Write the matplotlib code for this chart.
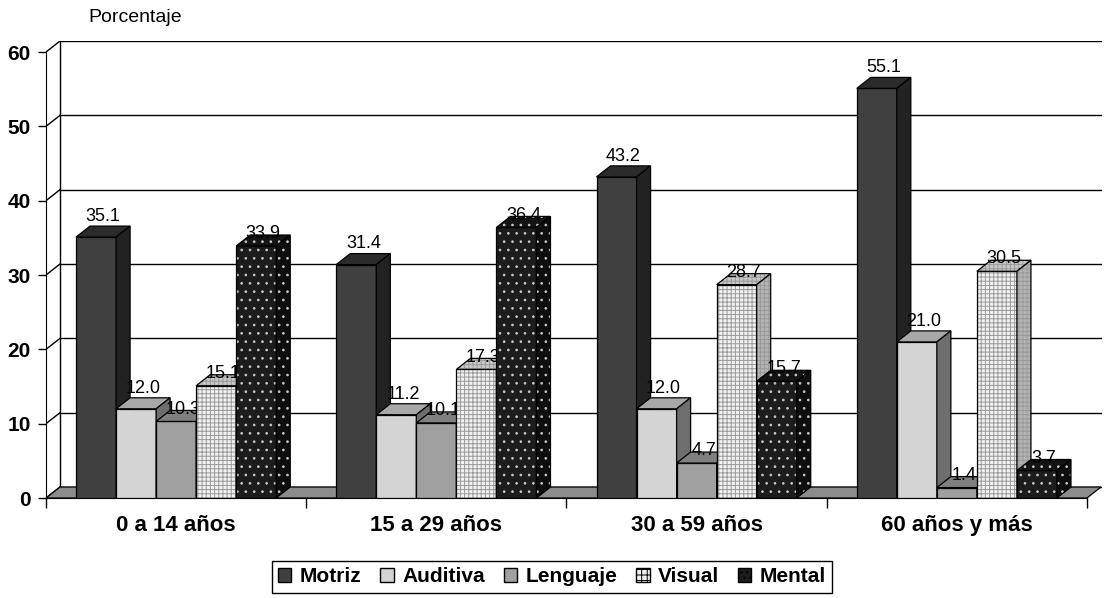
import matplotlib.pyplot as plt
from matplotlib.patches import Polygon, Patch

plt.rcParams['font.family'] = ['Liberation Sans', 'DejaVu Sans']
plt.rcParams['hatch.linewidth'] = 0.7

grupos = ['0 a 14 años', '15 a 29 años', '30 a 59 años', '60 años y más']
tipos = ['Motriz', 'Auditiva', 'Lenguaje', 'Visual', 'Mental']
motriz = [35.1, 31.4, 43.2, 55.1]
auditiva = [12.0, 11.2, 12.0, 21.0]
lenguaje = [10.3, 10.1, 4.7, 1.4]
visual = [15.1, 17.3, 28.7, 30.5]
mental = [33.9, 36.4, 15.7, 3.7]
series = [motriz, auditiva, lenguaje, visual, mental]

# front, top, side, hatch, hatch colour
estilos = [
    ('#404040', '#2b2b2b', '#222222', None, None),
    ('#d4d4d4', '#a8a8a8', '#6e6e6e', None, None),
    ('#a0a0a0', '#808080', '#5c5c5c', None, None),
    ('#f0f0f0', '#c8c8c8', '#b4b4b4', '++++', '#9a9a9a'),
    ('#1c1c1c', '#141414', '#0e0e0e', '..', '#c8c8c8'),
]
# label lift above the bar top (points)
lift = [7, 7, 1, 1, 1]

w = 40 / 260       # bar width in group units
pad = 30 / 260     # space before the first bar of a group
dx = 14 / 260      # depth offset, x
dy = 1.48          # depth offset, y (value units)
xmax = 4 + 15 / 260


def cara(ax, pts, fc, hatch, hc, z):
    ax.add_patch(Polygon(pts, closed=True, facecolor=fc, edgecolor='none', zorder=z))
    if hatch:
        ax.add_patch(Polygon(pts, closed=True, facecolor='none', edgecolor=hc,
                             hatch=hatch, lw=0, zorder=z))
    ax.add_patch(Polygon(pts, closed=True, fill=False, edgecolor='black',
                         lw=0.9, zorder=z))


fig = plt.figure(figsize=(11.04, 5.98), dpi=100)
ax = fig.add_axes([46 / 1104, 100 / 598, 1056 / 1104, 457 / 598])
ax.set_xlim(0, xmax)
ax.set_ylim(0, 60 + dy)

# walls and floor
for v in range(0, 61, 10):
    ax.plot([dx, xmax], [v + dy, v + dy], color='black', lw=1, zorder=0.5)
    ax.plot([0, dx], [v, v + dy], color='black', lw=1, zorder=0.5)
ax.plot([dx, dx], [dy, 60 + dy], color='black', lw=1, zorder=0.5)
cara(ax, [(0, 0), (4, 0), (4 + dx, dy), (dx, dy)], '#8c8c8c', None, None, 1)

for g in range(len(grupos)):
    for s, vals in enumerate(series):
        v = vals[g]
        fc, tc, sc, hatch, hc = estilos[s]
        x0 = g + pad + s * w
        z = 2 + s
        cara(ax, [(x0, 0), (x0 + w, 0), (x0 + w, v), (x0, v)], fc, hatch, hc, z)
        cara(ax, [(x0, v), (x0 + w, v), (x0 + w + dx, v + dy), (x0 + dx, v + dy)],
             tc, hatch, hc, z)
        cara(ax, [(x0 + w, 0), (x0 + w + dx, dy), (x0 + w + dx, v + dy), (x0 + w, v)],
             sc, hatch, hc, z)
        ax.annotate(f'{v:.1f}', xy=(x0 + w / 2 + dx / 2, v + dy), xytext=(0, lift[s]),
                    textcoords='offset points', ha='center', va='center',
                    fontsize=13, zorder=z + 0.5)

for side in ['top', 'right']:
    ax.spines[side].set_visible(False)
ax.spines['left'].set_bounds(0, 60)
ax.spines['bottom'].set_bounds(0, 4)
ax.spines['left'].set_zorder(0.6)
ax.spines['bottom'].set_zorder(0.6)

ax.set_yticks(range(0, 61, 10))
ax.tick_params(axis='y', length=6, width=1, pad=5, labelsize=15)
for t in ax.get_yticklabels():
    t.set_fontweight('bold')
ax.set_xticks(range(5))
ax.set_xticklabels([])
ax.tick_params(axis='x', which='major', length=7, width=1)
ax.set_xticks([g + 0.5 for g in range(len(grupos))], minor=True)
ax.set_xticklabels(grupos, minor=True, fontsize=16, fontweight='bold')
ax.tick_params(axis='x', which='minor', length=0, pad=12)

fig.text(88 / 1104, 1 - 18 / 598, 'Porcentaje', fontsize=14, va='center', ha='left')

handles = []
for s, nombre in enumerate(tipos):
    fc, tc, sc, hatch, hc = estilos[s]
    if hatch:
        h = Patch(facecolor=fc, edgecolor='black', hatch='+++' if s == 3 else '...', label=nombre)
    else:
        h = Patch(facecolor=fc, edgecolor='black', label=nombre)
    handles.append(h)
leg = fig.legend(handles=handles, loc='center', bbox_to_anchor=(552 / 1104, 1 - 577 / 598),
                 ncol=5, frameon=True, fancybox=False, edgecolor='black', framealpha=1,
                 handlelength=0.65, handleheight=0.65, handletextpad=0.4,
                 columnspacing=0.9, borderpad=0.3, prop={'weight': 'bold', 'size': 15})
leg.get_frame().set_linewidth(1)

fig.savefig('out.png', dpi=100)
